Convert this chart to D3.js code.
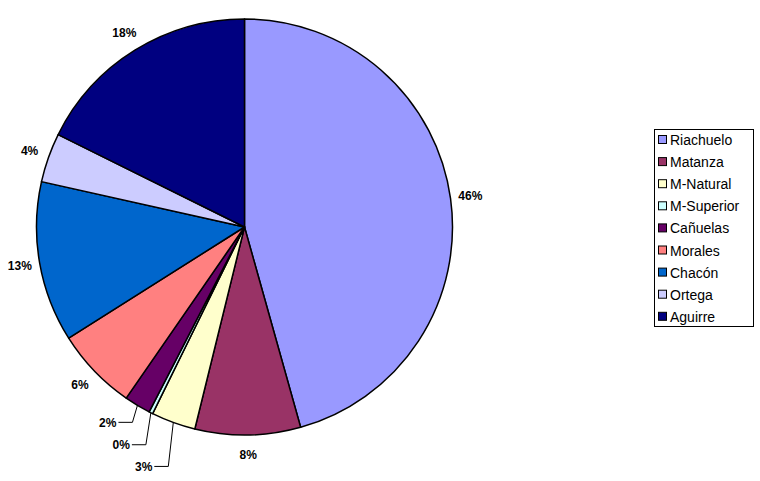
<!DOCTYPE html>
<html>
<head>
<meta charset="utf-8">
<script src="https://cdn.jsdelivr.net/npm/d3@7"></script>
<style>
  body { margin: 0; background: #fff; }
  text { font-family: Arial, "Liberation Sans", sans-serif; }
</style>
</head>
<body>
<script>
var width = 760,
    height = 481;

// percentages
var names = ["Riachuelo", "Matanza", "M-Natural", "M-Superior", "Cañuelas", "Morales", "Chacón", "Ortega", "Aguirre"];
var values = [45.65, 8.19, 3.44, 0.3, 2.05, 6.4, 12.47, 3.83, 17.67];
var labels = ["46%", "8%", "3%", "0%", "2%", "6%", "13%", "4%", "18%"];
var colors = ["#9999FF", "#993366", "#FFFFCC", "#CCFFFF", "#660066", "#FF8080", "#0066CC", "#CCCCFF", "#000080"];

var cx = 244.5, cy = 227, radius = 208;

// small slices get a leader line, value = how far the elbow drops below the rim
var leaderDrop = { 2: 44, 3: 32, 4: 17 };

var svg = d3.select("body")
    .append("svg")
    .attr("width", width)
    .attr("height", height);

var pie = d3.pie().sort(null).value(function(d) { return d; });
var arcs = pie(values);

var arc = d3.arc().innerRadius(0).outerRadius(radius);
var labelArc = d3.arc().innerRadius(228).outerRadius(228);
var rimArc = d3.arc().innerRadius(radius).outerRadius(radius);

var g = svg.append("g")
    .attr("transform", "translate(" + cx + "," + cy + ")");

g.selectAll("path.slice")
  .data(arcs)
  .enter().append("path")
    .attr("class", "slice")
    .attr("d", arc)
    .attr("fill", function(d, i) { return colors[i]; })
    .attr("stroke", "#000")
    .attr("stroke-width", 1.5)
    .attr("stroke-linejoin", "round");

arcs.forEach(function(d, i) {
    if (leaderDrop[i] != null) {
        var p = rimArc.centroid(d);
        var ex = p[0] - 5, ey = p[1] + leaderDrop[i];
        g.append("polyline")
            .attr("points", [p, [ex, ey], [ex - 14, ey]].map(function(q) { return q.join(","); }).join(" "))
            .attr("fill", "none")
            .attr("stroke", "#000")
            .attr("stroke-width", 1);
        g.append("text")
            .attr("x", ex - 16)
            .attr("y", ey)
            .attr("dy", "0.35em")
            .attr("text-anchor", "end")
            .attr("font-size", 12)
            .attr("font-weight", "bold")
            .text(labels[i]);
    } else {
        var c = labelArc.centroid(d);
        g.append("text")
            .attr("x", c[0])
            .attr("y", c[1])
            .attr("dy", "0.35em")
            .attr("text-anchor", "middle")
            .attr("font-size", 12)
            .attr("font-weight", "bold")
            .text(labels[i]);
    }
});

// legend
var legend = svg.append("g")
    .attr("transform", "translate(654,129)");

legend.append("rect")
    .attr("x", 0.5)
    .attr("y", 0.5)
    .attr("width", 99)
    .attr("height", 197)
    .attr("fill", "#fff")
    .attr("stroke", "#000")
    .attr("stroke-width", 1);

var item = legend.selectAll("g.item")
  .data(names)
  .enter().append("g")
    .attr("class", "item")
    .attr("transform", function(d, i) { return "translate(0," + (11 + i * 22.1) + ")"; });

item.append("rect")
    .attr("x", 4.5)
    .attr("y", -4.5)
    .attr("width", 8)
    .attr("height", 8)
    .attr("fill", function(d, i) { return colors[i]; })
    .attr("stroke", "#000")
    .attr("stroke-width", 1);

item.append("text")
    .attr("x", 16)
    .attr("y", 0)
    .attr("dy", "0.36em")
    .attr("font-size", 14)
    .attr("fill", "#000")
    .text(function(d) { return d; });
</script>
</body>
</html>
